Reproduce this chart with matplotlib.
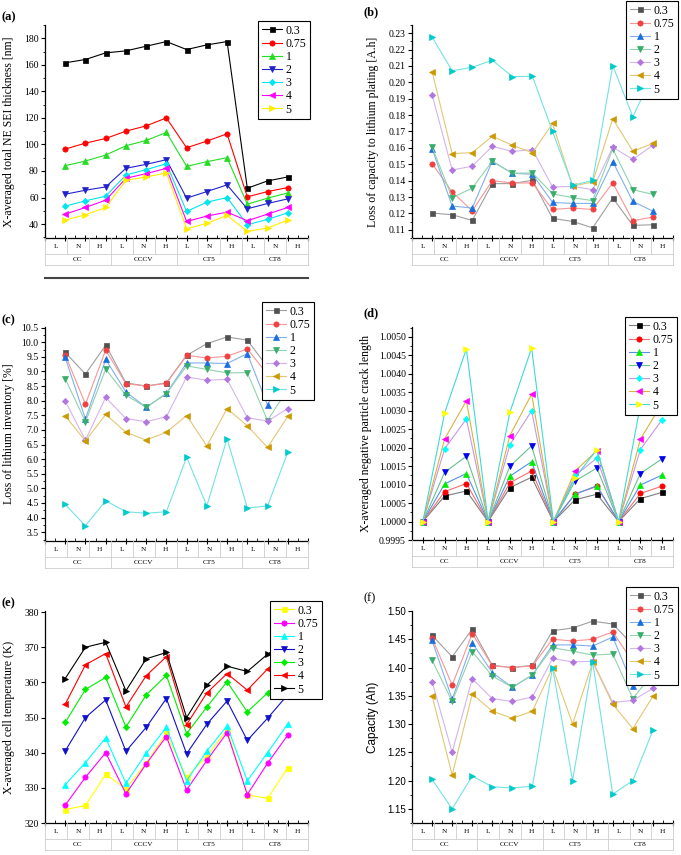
import numpy as np
import matplotlib
matplotlib.use("Agg")
import matplotlib.pyplot as plt
from matplotlib.lines import Line2D
from matplotlib.ticker import MultipleLocator, FormatStrFormatter

# ---------------- data ----------------
series_labels = ['0.3', '0.75', '1', '2', '3', '4', '5']
cond_labels = ['L', 'N', 'H']
group_labels = ['CC', 'CCCV', 'CT5', 'CT8']

a_03 = [161.5, 164, 169, 170.5, 174, 177.5, 171.5, 175, 177.5, 67, 72.5, 75.5]
a_075 = [96.5, 101, 104.5, 110, 114, 120, 97.5, 102.5, 108, 60.5, 64.5, 67.5]
a_1 = [84, 87.5, 92, 99, 103, 109, 83.5, 87, 90, 55, 59.5, 63.5]
a_2 = [62.5, 65.5, 68, 82, 85, 88.5, 59.5, 64.5, 69.5, 51.5, 55.5, 59]
a_3 = [53.5, 57.5, 61, 77, 81, 85.5, 49.5, 56.5, 60, 39.5, 43.5, 48.5]
a_4 = [47.5, 52.5, 58, 74.5, 78, 82, 42, 46, 49, 42.5, 47.5, 52.5]
a_5 = [43, 47, 52.5, 73, 75.5, 78.5, 36.5, 40.5, 46.5, 34.5, 37, 43]

b_03 = [0.1202, 0.1192, 0.1157, 0.1382, 0.1382, 0.1402, 0.1170, 0.1151, 0.1112, 0.1294, 0.1127, 0.1131]
b_075 = [0.1504, 0.1331, 0.1216, 0.1400, 0.1386, 0.1386, 0.1224, 0.1233, 0.1224, 0.1386, 0.1155, 0.1178]
b_1 = [0.1596, 0.1245, 0.1233, 0.1518, 0.1445, 0.1439, 0.1267, 0.1261, 0.1261, 0.1516, 0.1273, 0.1214]
b_2 = [0.1606, 0.1296, 0.1355, 0.1518, 0.1445, 0.1447, 0.1320, 0.1296, 0.1278, 0.1594, 0.1345, 0.1316]
b_3 = [0.1925, 0.1465, 0.1488, 0.1610, 0.1578, 0.1590, 0.1361, 0.1365, 0.1345, 0.1604, 0.1530, 0.1616]
b_4 = [0.2065, 0.1565, 0.1571, 0.1671, 0.1616, 0.1570, 0.1749, 0.1367, 0.1392, 0.1778, 0.1580, 0.1627]
b_5 = [0.2276, 0.2071, 0.2092, 0.2135, 0.2035, 0.2037, 0.1700, 0.1371, 0.1402, 0.2102, 0.1790, 0.2050]

c_03 = [9.65, 8.91, 9.90, 8.61, 8.50, 8.61, 9.55, 9.95, 10.18, 10.07, 9.15, 9.70]
c_075 = [9.57, 7.88, 9.73, 8.58, 8.50, 8.59, 9.55, 9.46, 9.52, 9.77, 8.90, 9.50]
c_1 = [9.48, 7.37, 9.41, 8.30, 7.77, 8.25, 9.29, 9.29, 9.27, 9.61, 7.85, 9.20]
c_2 = [8.75, 7.28, 9.08, 8.19, 7.77, 8.24, 9.19, 9.07, 8.95, 8.96, 7.32, 8.40]
c_3 = [7.98, 6.65, 8.11, 7.39, 7.28, 7.45, 8.81, 8.70, 8.73, 7.42, 7.30, 7.73]
c_4 = [7.48, 6.62, 7.53, 6.92, 6.65, 6.92, 7.49, 6.45, 7.73, 7.14, 6.40, 7.46]
c_5 = [4.45, 3.72, 4.58, 4.20, 4.15, 4.20, 6.07, 4.40, 6.70, 4.33, 4.40, 6.23]

d_03 = [1.0, 1.00069, 1.00083, 1.0, 1.00092, 1.00120, 1.0, 1.00059, 1.00074, 1.0, 1.00062, 1.00079]
d_075 = [1.0, 1.00081, 1.00103, 1.0, 1.00105, 1.00137, 1.0, 1.00075, 1.00095, 1.0, 1.00076, 1.00096]
d_1 = [1.0, 1.00102, 1.00130, 1.0, 1.00123, 1.00162, 1.0, 1.00074, 1.00097, 1.0, 1.00099, 1.00126]
d_2 = [1.0, 1.00133, 1.00177, 1.0, 1.00150, 1.00205, 1.0, 1.00110, 1.00145, 1.0, 1.00130, 1.00170]
d_3 = [1.0, 1.00197, 1.00278, 1.0, 1.00208, 1.00300, 1.0, 1.00125, 1.00172, 1.0, 1.00195, 1.00276]
d_4 = [1.0, 1.00224, 1.00327, 1.0, 1.00233, 1.00345, 1.0, 1.00137, 1.00192, 1.0, 1.00223, 1.00320]
d_5 = [1.0, 1.00294, 1.00468, 1.0, 1.00296, 1.00470, 1.0, 1.00119, 1.00195, 1.0, 1.00315, 1.00460]

e_03 = [323.8, 325.0, 333.8, 329.8, 337.0, 345.5, 333.0, 339.0, 346.5, 328.0, 327.0, 335.7]
e_075 = [325.1, 333.0, 340.0, 328.3, 336.8, 344.6, 329.4, 337.8, 345.7, 328.1, 337.0, 345.0]
e_1 = [330.9, 337.2, 344.2, 331.3, 339.8, 347.2, 332.0, 340.5, 347.6, 332.0, 340.0, 348.2]
e_2 = [340.5, 350.0, 355.0, 340.4, 347.2, 355.4, 339.7, 348.1, 354.7, 343.5, 349.8, 356.5]
e_3 = [348.6, 358.0, 361.4, 347.3, 356.4, 362.0, 345.4, 353.0, 360.2, 351.6, 357.0, 362.5]
e_4 = [353.8, 365.0, 368.2, 353.0, 361.9, 367.3, 348.0, 357.0, 362.5, 357.8, 363.8, 369.0]
e_5 = [361.1, 370.0, 371.4, 357.6, 366.7, 368.5, 350.0, 359.2, 364.6, 363.1, 368.0, 372.0]

f_03 = [1.457, 1.419, 1.468, 1.404, 1.400, 1.404, 1.465, 1.470, 1.482, 1.477, 1.440, 1.440]
f_075 = [1.452, 1.369, 1.460, 1.403, 1.400, 1.403, 1.450, 1.447, 1.450, 1.463, 1.410, 1.430]
f_1 = [1.448, 1.344, 1.444, 1.391, 1.365, 1.387, 1.440, 1.440, 1.438, 1.454, 1.368, 1.400]
f_2 = [1.413, 1.340, 1.428, 1.385, 1.365, 1.387, 1.435, 1.429, 1.422, 1.424, 1.345, 1.390]
f_3 = [1.375, 1.250, 1.380, 1.345, 1.340, 1.348, 1.416, 1.410, 1.411, 1.338, 1.342, 1.363]
f_4 = [1.350, 1.210, 1.353, 1.323, 1.310, 1.323, 1.400, 1.300, 1.410, 1.335, 1.292, 1.349]
f_5 = [1.202, 1.150, 1.208, 1.189, 1.187, 1.190, 1.400, 1.200, 1.410, 1.176, 1.200, 1.289]

# ---------------- styling ----------------
SERIF = ['Liberation Serif', 'DejaVu Serif']
SANS = ['Liberation Sans', 'DejaVu Sans']
plt.rcParams['font.family'] = SERIF
plt.rcParams['mathtext.fontset'] = 'stix'

W, H = 681, 855
fig = plt.figure(figsize=(W / 100, H / 100), dpi=100)

markers = ['s', 'o', '^', 'v', 'D', '<', '>']
msizes = [3.6, 3.8, 4.0, 4.0, 3.2, 4.0, 4.0]
origin = ['#515151', '#F14040', '#1A6FDF', '#37AD6B', '#B177DE', '#CC9900', '#00CBCC']
classic = ['#000000', '#FF0000', '#22DD22', '#2222CC', '#00E5EE', '#FF00FF', '#FFEE00']
classic_d = ['#000000', '#FF0000', '#00EE00', '#0000EE', '#00FFFF', '#FF00FF', '#FFFF00']
e_cols = ['#FFFF00', '#FF00FF', '#00FFFF', '#1010CC', '#00EE00', '#FF0000', '#000000']


def lighten(c, f=0.5):
    r, g, b = matplotlib.colors.to_rgb(c)
    return (r + (1 - r) * f, g + (1 - g) * f, b + (1 - b) * f)


def px_axes(l, t, r, b):
    return fig.add_axes([l / W, 1 - b / H, (r - l) / W, (b - t) / H])


def make_panel(rect, data, mcols, lcols, ylim, ymaj, ymin, yfmt, ylabel, xlim,
               label, label_xy, leg_xy, ylab_x, sans=False, bold=True):
    l, t, r, b = rect
    ax = px_axes(l, t, r, b)
    xs = np.arange(1, 13)
    handles = []
    for i, ys in enumerate(data):
        ln, = ax.plot(xs, ys, color=lcols[i], lw=0.8, marker=markers[i],
                      ms=msizes[i], mfc=mcols[i], mec=mcols[i], mew=0.5,
                      zorder=3 + i * 0.01, clip_on=False)
        handles.append(ln)
    ax.set_xlim(*xlim)
    ax.set_ylim(*ylim)
    for s in ['top', 'right']:
        ax.spines[s].set_visible(False)
    for s in ['left', 'bottom']:
        ax.spines[s].set_linewidth(0.9)
    ax.yaxis.set_major_locator(MultipleLocator(ymaj))
    if ymin:
        ax.yaxis.set_minor_locator(MultipleLocator(ymin))
    ax.yaxis.set_major_formatter(FormatStrFormatter(yfmt))
    ax.xaxis.set_major_locator(MultipleLocator(1))
    ax.xaxis.set_minor_locator(MultipleLocator(0.5))
    ax.tick_params(axis='x', which='major', direction='inout', length=4, width=0.8,
                   labelbottom=False)
    ax.tick_params(axis='x', which='minor', direction='in', length=2, width=0.6)
    ax.tick_params(axis='y', which='major', direction='out', length=3, width=0.8,
                   labelsize=7, pad=1.5)
    ax.tick_params(axis='y', which='minor', direction='out', length=1.8, width=0.6)
    fam = SANS if sans else SERIF
    for tl in ax.get_yticklabels():
        tl.set_family(fam)
    ax.set_ylabel(ylabel, fontsize=8.5, family=fam)
    ax.yaxis.set_label_coords(ylab_x, 0.5)

    # category table under the axis
    tab = px_axes(l, b, r, b + 27)
    tab.set_xlim(0, 12)
    tab.set_ylim(27, 0)
    tab.axis('off')
    gc = '#cccccc'
    kw = dict(color=gc, lw=0.6, clip_on=False)
    tab.plot([0, 12], [16, 16], **kw)
    tab.plot([0, 12], [27, 27], **kw)
    tab.plot([0, 0], [0, 27], **kw)
    tab.plot([12, 12], [0, 27], **kw)
    for k in range(1, 12):
        tab.plot([k, k], [0, 16], **kw)
    for k in (3, 6, 9):
        tab.plot([k, k], [16, 27], **kw)
    for g, gname in enumerate(group_labels):
        for j, cname in enumerate(cond_labels):
            tab.text(g * 3 + j + 0.5, 8.5, cname, ha='center', va='center',
                     fontsize=5.2, family=SERIF)
        tab.text(g * 3 + 1.5, 21.8, gname, ha='center', va='center',
                 fontsize=5.2, family=SERIF)

    fig.text(label_xy[0] / W, 1 - label_xy[1] / H, label, fontsize=9,
             fontweight='bold' if bold else 'normal', family=SERIF,
             ha='left', va='center')

    leg = ax.legend(handles, series_labels, loc='upper left',
                    bbox_to_anchor=(leg_xy[0] / W, 1 - leg_xy[1] / H),
                    bbox_transform=fig.transFigure,
                    prop={'family': SERIF, 'size': 8.5},
                    frameon=True, fancybox=False, edgecolor='black',
                    framealpha=1, borderpad=0.3, labelspacing=0.1,
                    handlelength=1.7, handletextpad=0.35, borderaxespad=0,
                    numpoints=1)
    leg.get_frame().set_linewidth(0.8)
    leg.set_zorder(10)
    return ax


light_origin = [lighten(c, 0.45) for c in origin]

make_panel((45, 25, 308, 238), [a_03, a_075, a_1, a_2, a_3, a_4, a_5],
           classic, classic, (29.5, 190), 20, 10, '%d',
           'X-averaged total NE SEI thickness [nm]', (0, 13),
           '(a)', (2, 17), (258, 21), -0.115)
fig.add_artist(Line2D([45 / W, 308 / W], [1 - 278 / H, 1 - 278 / H],
                      color='#444444', lw=1.5))

make_panel((412, 25, 673, 238), [b_03, b_075, b_1, b_2, b_3, b_4, b_5],
           origin, light_origin, (0.105, 0.235), 0.01, 0.005, '%.2f',
           'Loss of capacity to lithium plating [A.h]', (0, 13),
           '(b)', (363, 12), (626, 1), -0.125)

make_panel((45, 327, 308, 541), [c_03, c_075, c_1, c_2, c_3, c_4, c_5],
           origin, light_origin, (3.2, 10.52), 0.5, 0.25, '%.1f',
           'Loss of lithium inventory [%]', (0, 13),
           '(c)', (2, 320), (262, 302), -0.115)

make_panel((412, 327, 673, 540), [d_03, d_075, d_1, d_2, d_3, d_4, d_5],
           classic_d, [lighten(c, 0.25) for c in origin], (0.9995, 1.00527),
           0.0005, 0.00025, '%.4f',
           'X-averaged negative particle crack length', (0.5, 12.5),
           '(d)', (363, 313), (625, 317), -0.155)

make_panel((45, 611, 308, 823), [e_03, e_075, e_1, e_2, e_3, e_4, e_5],
           e_cols, e_cols, (320, 380.3), 10, None, '%d',
           'X-averaged cell temperature (K)', (0, 13),
           '(e)', (2, 603), (270, 601), -0.115)

make_panel((412, 611, 673, 823), [f_03, f_075, f_1, f_2, f_3, f_4, f_5],
           origin, light_origin, (1.125, 1.50), 0.05, 0.025, '%.2f',
           'Capacity (Ah)', (0, 13),
           '(f)', (363, 598), (626, 587), -0.127, sans=True, bold=False)

fig.savefig('out.png', dpi=100)
